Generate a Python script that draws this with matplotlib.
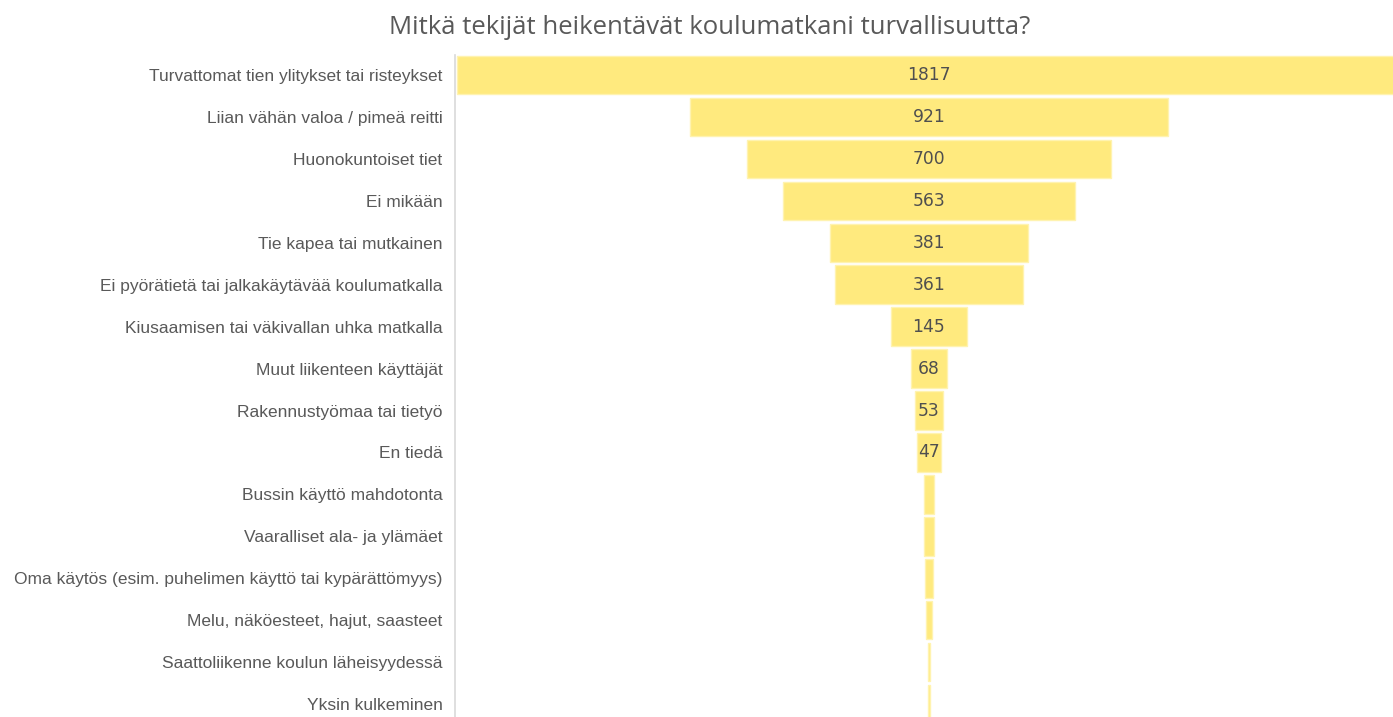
import matplotlib
matplotlib.use("Agg")
import matplotlib.pyplot as plt

categories = [
    "Turvattomat tien ylitykset tai risteykset",
    "Liian vähän valoa / pimeä reitti",
    "Huonokuntoiset tiet",
    "Ei mikään",
    "Tie kapea tai mutkainen",
    "Ei pyörätietä tai jalkakäytävää koulumatkalla",
    "Kiusaamisen tai väkivallan uhka matkalla",
    "Muut liikenteen käyttäjät",
    "Rakennustyömaa tai tietyö",
    "En tiedä",
    "Bussin käyttö mahdotonta",
    "Vaaralliset ala- ja ylämäet",
    "Oma käytös (esim. puhelimen käyttö tai kypärättömyys)",
    "Melu, näköesteet, hajut, saasteet",
    "Saattoliikenne koulun läheisyydessä",
    "Yksin kulkeminen",
]
values = [1817, 921, 700, 563, 381, 361, 145, 68, 53, 47, 20, 18, 15, 12, 3, 3]
shown_labels = [True] * 10 + [False] * 6

W, H = 1393, 717
fig = plt.figure(figsize=(W / 100, H / 100), dpi=100)
ax = fig.add_axes([455 / W, 0, 1 - 455 / W, 1 - 55 / H])

y = list(range(len(categories)))
lefts = [-v / 2 for v in values]
ax.barh(y, values, left=lefts, height=0.92, color="#FFEA7E",
        edgecolor="#FFF3B0", linewidth=1.0)

for yi, v, show in zip(y, values, shown_labels):
    if show:
        ax.text(0, yi, str(v), ha="center", va="center",
                fontsize=12.3, color="#4F4F4F", family="DejaVu Sans")

ax.set_xlim(-913, 894)
ax.set_ylim(15.31, -0.48)
ax.set_yticks(y)
ax.set_yticklabels(categories, fontsize=12.5, color="#595959", family="Liberation Sans")
ax.tick_params(axis="y", length=0, pad=9)
ax.set_xticks([])
for s in ["top", "right", "bottom"]:
    ax.spines[s].set_visible(False)
ax.spines["left"].set_color("#D9D9D9")
ax.spines["left"].set_linewidth(1.2)

fig.text(710 / W, 1 - 27 / H, "Mitkä tekijät heikentävät koulumatkani turvallisuutta?",
         ha="center", va="center", fontsize=18.5, color="#595959", family="Open Sans")

fig.savefig("out.png", dpi=100)
